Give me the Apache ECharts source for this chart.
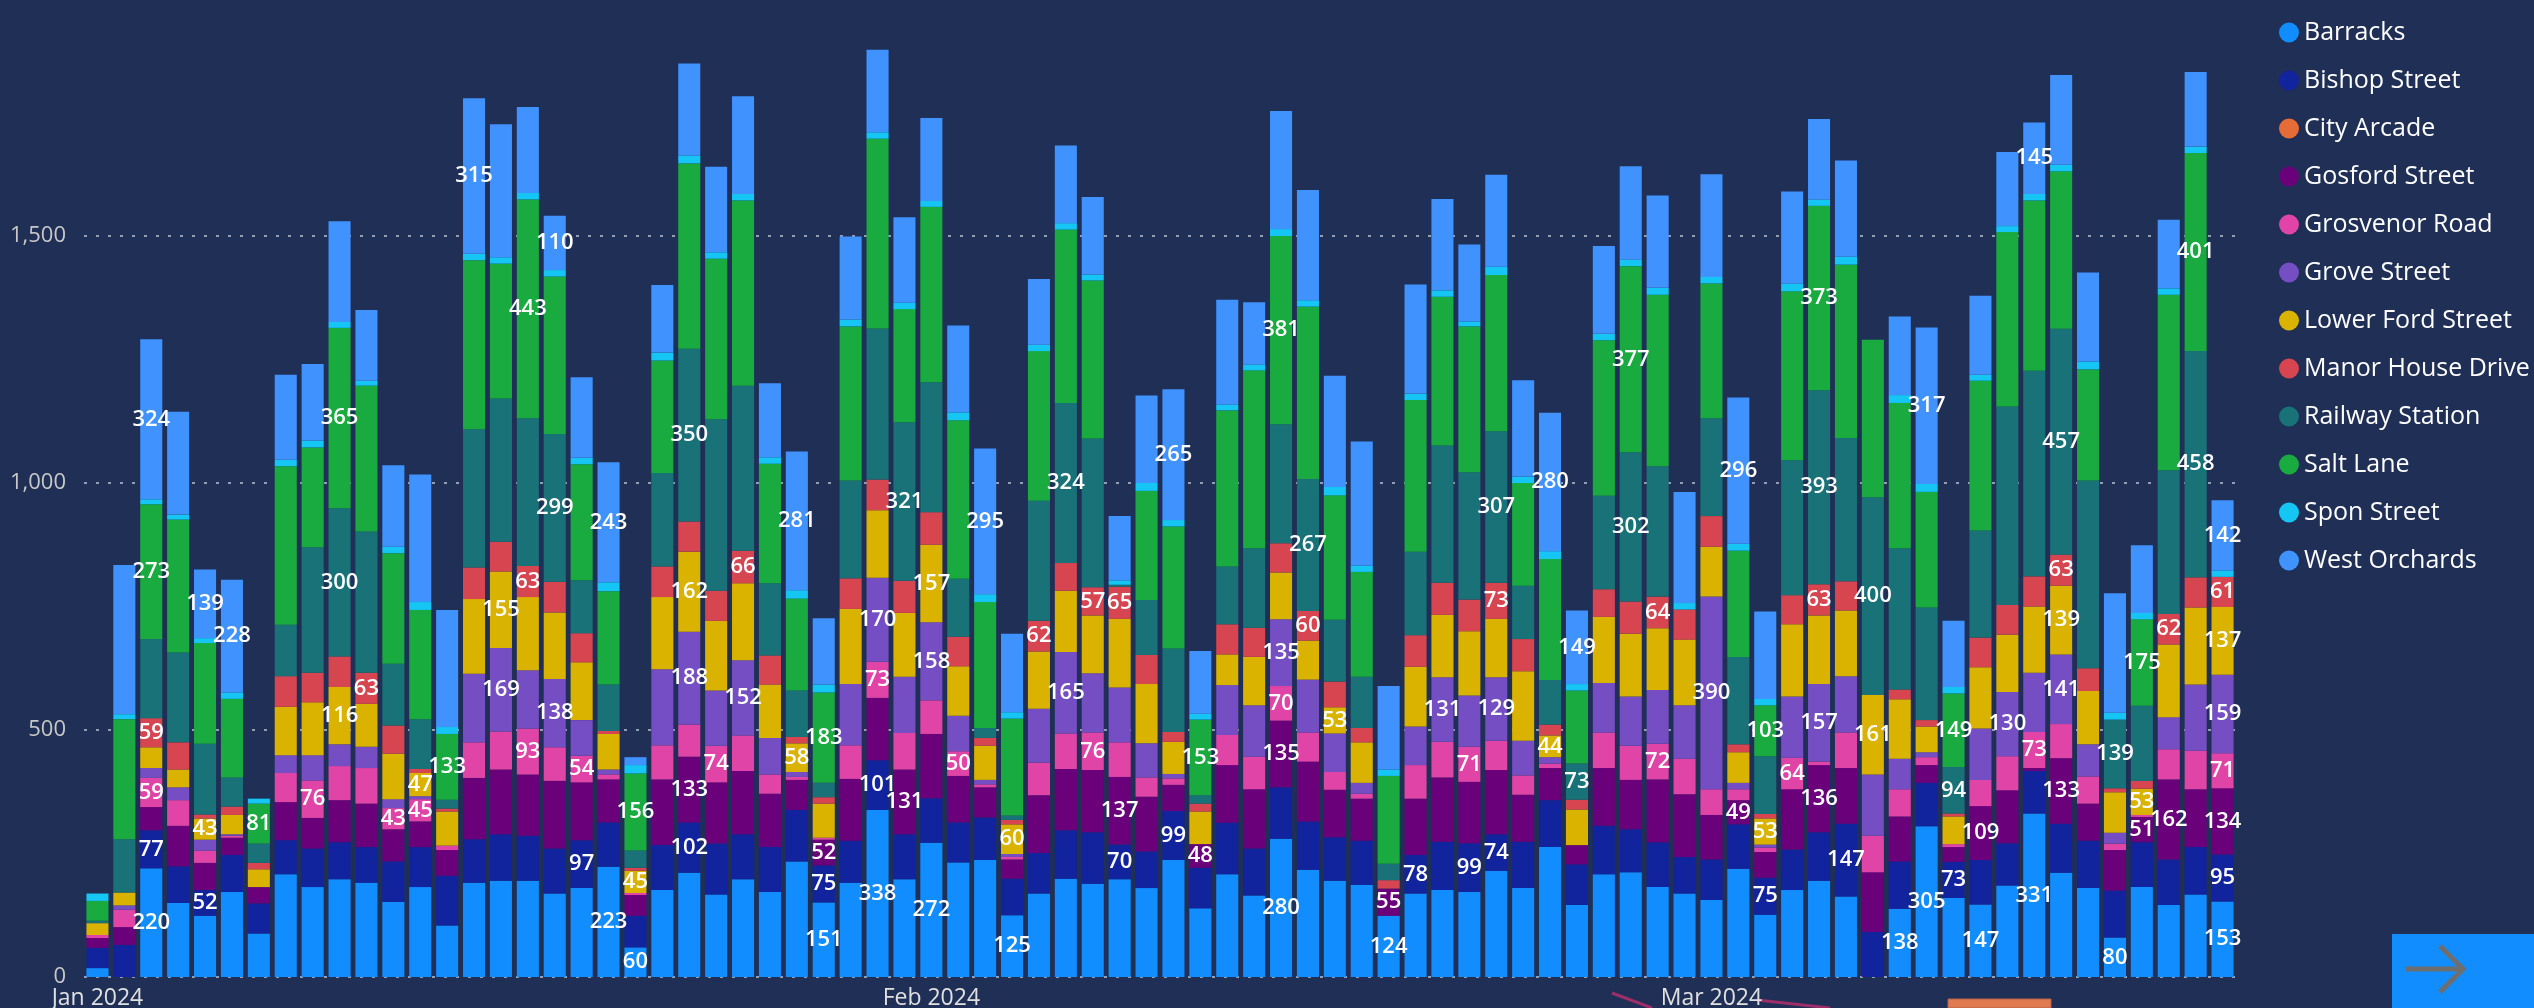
<!DOCTYPE html>
<html><head><meta charset="utf-8">
<script src="https://cdn.jsdelivr.net/npm/echarts/dist/echarts.min.js"></script>
<style>html,body{margin:0;padding:0;background:#1f2f56;overflow:hidden}#c{width:2534px;height:1008px;}</style>
</head><body><div id="c"></div>
<script>
const categories = [
"2024-01-01","2024-01-02","2024-01-03","2024-01-04","2024-01-05","2024-01-06","2024-01-07","2024-01-08","2024-01-09","2024-01-10",
"2024-01-11","2024-01-12","2024-01-13","2024-01-14","2024-01-15","2024-01-16","2024-01-17","2024-01-18","2024-01-19","2024-01-20",
"2024-01-21","2024-01-22","2024-01-23","2024-01-24","2024-01-25","2024-01-26","2024-01-27","2024-01-28","2024-01-29","2024-01-30","2024-01-31",
"2024-02-01","2024-02-02","2024-02-03","2024-02-04","2024-02-05","2024-02-06","2024-02-07","2024-02-08","2024-02-09","2024-02-10",
"2024-02-11","2024-02-12","2024-02-13","2024-02-14","2024-02-15","2024-02-16","2024-02-17","2024-02-18","2024-02-19","2024-02-20",
"2024-02-21","2024-02-22","2024-02-23","2024-02-24","2024-02-25","2024-02-26","2024-02-27","2024-02-28","2024-02-29",
"2024-03-01","2024-03-02","2024-03-03","2024-03-04","2024-03-05","2024-03-06","2024-03-07","2024-03-08","2024-03-09","2024-03-10",
"2024-03-11","2024-03-12","2024-03-13","2024-03-14","2024-03-15","2024-03-16","2024-03-17","2024-03-18","2024-03-19","2024-03-20"];

const tickDates  = ["2024-01-01", "2024-02-01", "2024-03-01"];
const tickLabels = ["Jan 2024", "Feb 2024", "Mar 2024"];

const barracks = [
 18,0,220,150,124,172,88,208,182,198, 191,152,182,104,191,195,195,169,180,223, 60,176,211,167,198,172,234,151,191,338, 198,
 272,232,237,125,169,199,189,198,180,237, 139,208,165,280,217,195,186,124,169,176, 172,215,180,263,146,208,212,182,169,
 156,219,126,176,195,163,0,138,305,160, 147,185,331,211,180,80,182,146,167,153];
const bishopStreet = [
 41,65,77,74,52,75,61,69,78,75, 72,82,81,101,88,94,91,91,97,90, 64,91,102,103,91,91,104,75,85,101, 91,
 90,81,86,74,82,98,104,70,74,99, 82,104,95,104,98,88,90,0,78,98, 99,74,94,95,82,98,87,91,74,
 82,90,75,82,98,147,91,96,88,73, 90,86,86,99,96,95,91,92,96,95];
const cityArcade = [];
const gosfordStreet = [
 20,36,47,82,55,35,33,77,62,85, 88,65,52,52,124,131,124,137,117,87, 42,133,133,124,128,108,61,52,125,126, 131,
 130,94,61,39,117,124,126,137,111,53, 48,117,120,135,121,96,85,55,114,130, 124,130,95,65,39,117,100,127,127,
 90,49,52,122,136,113,121,91,36,30, 109,107,6,133,75,82,51,162,117,134];
const grosvenorRoad = [
 6,35,59,52,25,4,0,59,76,69, 72,43,45,9,72,77,93,68,54,10, 4,69,65,74,72,39,6,4,68,73, 74,
 68,50,6,5,66,72,76,70,39,13, 0,61,66,70,59,36,10,0,68,72, 71,59,39,9,0,72,69,72,72,
 52,22,9,64,7,72,74,55,16,6, 53,69,73,69,55,13,4,61,78,71];
const groveStreet = [
 0,9,20,26,22,3,0,36,51,44, 43,18,6,0,139,169,118,138,72,10, 0,154,188,112,152,74,10,0,124,170, 114,
 158,72,9,6,109,165,120,111,69,9, 0,101,104,135,107,78,22,0,78,131, 104,129,70,13,0,100,100,109,108,
 390,13,6,124,157,114,124,62,10,0, 104,130,120,141,65,22,0,65,134,159];
const lowerFordStreet = [
 24,26,42,36,43,39,36,98,107,116, 87,92,47,69,151,155,148,135,117,72, 45,146,162,141,156,108,58,69,152,137, 129,
 157,100,69,60,116,124,117,139,120,65, 66,62,98,95,79,53,82,0,121,126, 130,118,141,44,72,134,127,125,133,
 101,62,53,146,139,133,161,120,52,56, 124,116,134,139,108,82,53,147,156,137];
const manorHouseDrive = [
 0,0,59,55,8,17,13,62,60,62, 63,57,8,6,64,60,63,62,59,6, 6,62,61,61,66,59,13,13,62,62, 65,
 66,60,16,9,62,56,57,65,59,20, 16,61,59,59,60,52,29,17,64,65, 64,73,65,22,20,56,65,64,61,
 62,16,9,59,63,59,0,20,13,6, 60,60,61,63,46,8,16,62,61,61];
const railwayStation = [
 5,108,160,182,143,59,39,104,254,300, 286,125,101,18,280,290,299,299,107,94, 35,189,350,347,334,146,94,29,198,306, 321,
 263,117,20,9,243,324,301,4,111,169, 17,117,161,241,267,125,104,33,169,278, 258,307,108,90,73,189,302,264,0,
 198,177,117,273,393,290,400,286,228,94, 217,402,416,457,380,139,152,291,458,0];
const saltLane = [
 40,243,273,269,204,159,81,321,202,365, 295,224,221,133,342,273,443,319,235,189, 156,228,375,325,375,242,186,183,312,384, 229,
 355,321,255,196,303,351,320,0,221,247, 153,316,360,381,349,252,212,178,307,301, 295,316,208,245,148,315,377,347,0,
 273,215,103,342,373,351,319,294,234,149, 303,353,345,319,225,0,175,355,401,0];
const sponStreet = [
 15,10,10,10,10,13,10,13,14,12, 10,13,16,14,13,13,13,13,13,18, 17,16,16,13,13,13,17,16,14,13, 13,
 12,16,16,13,13,13,12,9,16,13, 12,12,12,14,13,17,13,13,13,13, 10,17,13,16,13,13,13,14,13,
 13,14,13,16,13,16,0,16,16,13, 12,12,13,13,16,14,13,13,13,13];
const westOrchards = [
 0,302,324,208,139,228,0,172,155,204, 143,165,258,237,315,269,174,110,163,243, 16,137,186,173,198,150,281,134,168,167, 173,
 168,176,295,159,133,157,157,130,177,265, 127,212,126,239,223,225,251,169,221,185, 156,186,195,280,149,178,189,187,225,
 208,296,177,186,163,195,0,159,317,134, 160,150,145,182,180,242,137,139,151,142];

// which day indices carry a visible data label, per series
const labelled = {
  "Barracks":          [2,19,20,27,29,31,34,44,48,67,68,70,72,75,79],
  "Bishop Street":     [2,4,18,22,27,29,38,40,49,51,52,62,65,69,79],
  "Gosford Street":    [22,27,30,38,41,44,48,61,64,70,73,76,77,79],
  "Grosvenor Road":    [2,8,11,12,16,18,23,29,32,37,44,51,58,63,72,79],
  "Grove Street":      [15,17,22,24,29,31,36,44,50,52,60,64,71,73,79],
  "Lower Ford Street": [4,9,12,15,20,22,26,31,34,46,54,62,66,73,76,79],
  "Manor House Drive": [2,10,16,24,35,37,38,45,52,58,64,73,77,79],
  "Railway Station":   [9,17,22,30,36,45,52,55,57,64,66,69,73,75,78],
  "Salt Lane":         [2,6,9,13,16,20,27,41,44,57,62,64,69,76,78],
  "West Orchards":     [2,4,5,14,17,19,26,33,40,54,55,61,68,72,79]
};

const seriesDefs = [
  ["Barracks", barracks, "#118DFF"],
  ["Bishop Street", bishopStreet, "#12239E"],
  ["City Arcade", cityArcade, "#E66C37"],
  ["Gosford Street", gosfordStreet, "#6B007B"],
  ["Grosvenor Road", grosvenorRoad, "#E044A7"],
  ["Grove Street", groveStreet, "#744EC2"],
  ["Lower Ford Street", lowerFordStreet, "#D9B300"],
  ["Manor House Drive", manorHouseDrive, "#D64550"],
  ["Railway Station", railwayStation, "#197278"],
  ["Salt Lane", saltLane, "#1AAB40"],
  ["Spon Street", sponStreet, "#15C6F4"],
  ["West Orchards", westOrchards, "#4092FF"]
];

const FONT = "'Open Sans', 'Noto Sans', sans-serif";

const series = seriesDefs.map(([name, values, color]) => {
  const idx = labelled[name] || [];
  return {
    name, type: 'bar', stack: 'total', barWidth: '82%',
    itemStyle: { color },
    emphasis: { disabled: true },
    label: { show: false, position: 'inside', color: '#ffffff', fontSize: 22, fontWeight: 600,
             fontFamily: FONT, textBorderWidth: 0 },
    data: values.map((v, i) => idx.includes(i) ? { value: v, label: { show: true } } : v)
  };
});

const chart = echarts.init(document.getElementById('c'), null, { renderer: 'canvas' });
chart.setOption({
  backgroundColor: '#1f2f56',
  animation: false,
  grid: { left: 84, right: 298, top: -11, bottom: 31, containLabel: false, outerBoundsMode: 'none' },
  legend: {
    orient: 'vertical', left: 2274, top: 15, icon: 'circle',
    itemWidth: 20, itemHeight: 20, itemGap: 23,
    textStyle: { color: '#ffffff', fontSize: 25, fontFamily: FONT },
    data: seriesDefs.map(d => d[0])
  },
  xAxis: {
    type: 'category', data: categories,
    axisLine: { show: false }, axisTick: { show: false },
    axisLabel: {
      interval: (i, v) => tickDates.includes(v),
      formatter: v => { const k = tickDates.indexOf(v); return k >= 0 ? tickLabels[k] : ''; },
      color: '#e0e0e0', fontSize: 23, fontFamily: FONT, margin: 10, hideOverlap: false
    }
  },
  yAxis: {
    type: 'value', min: 0, max: 2000, interval: 500,
    axisLine: { show: false }, axisTick: { show: false },
    axisLabel: { color: '#c8c8c8', fontSize: 22, fontFamily: FONT, margin: 18,
      formatter: v => v.toLocaleString('en-US') },
    splitLine: { show: true, lineStyle: { color: 'rgba(190,195,205,0.75)', width: 2, type: [3, 9] } }
  },
  graphic: [
    { type: 'polyline', silent: true, shape: { points: [[1612, 993], [1652, 1008]] }, style: { stroke: '#9c2f6a', lineWidth: 3, fill: null } },
    { type: 'polyline', silent: true, shape: { points: [[1757, 1000], [1830, 1008]] }, style: { stroke: '#9c2f6a', lineWidth: 3, fill: null } },
    { type: 'rect', silent: true, shape: { x: 1948, y: 999, width: 103, height: 9 }, style: { fill: '#E07A50', stroke: '#b5604a', lineWidth: 1 } },
    { type: 'rect', silent: true, shape: { x: 2392, y: 934, width: 142, height: 74 }, style: { fill: '#118DFF' } },
    { type: 'polyline', silent: true, shape: { points: [[2406, 969], [2462, 969]] }, style: { stroke: '#6e6e6e', lineWidth: 5, fill: null } },
    { type: 'polyline', silent: true, shape: { points: [[2440, 946], [2463, 969], [2440, 992]] }, style: { stroke: '#6e6e6e', lineWidth: 5, fill: null } }
  ],
  series
});
</script></body></html>
